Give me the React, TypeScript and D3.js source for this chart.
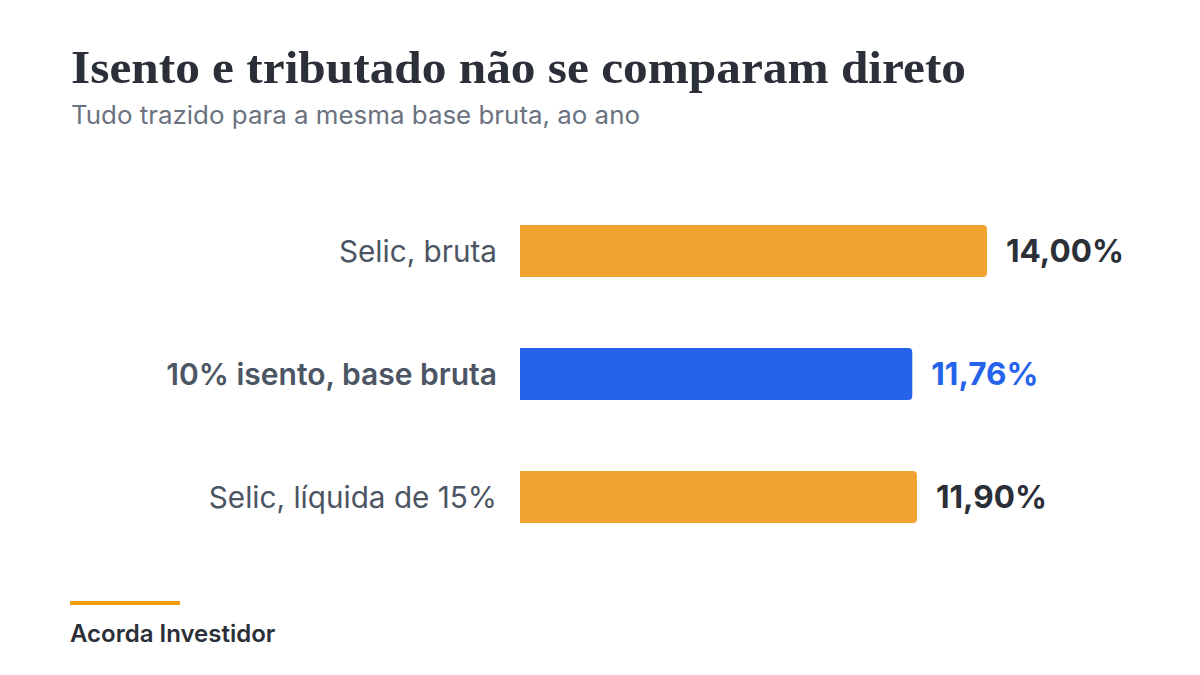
import React from "react";
import * as d3 from "d3";

const categories = ["Selic, bruta", "10% isento, base bruta", "Selic, líquida de 15%"];
const values = [14.0, 11.76, 11.9];
const valueLabels = ["14,00%", "11,76%", "11,90%"];
const highlighted = [false, true, false];

const title = "Isento e tributado não se comparam direto";
const subtitle = "Tudo trazido para a mesma base bruta, ao ano";
const source = "Acorda Investidor";

const W = 1200;
const H = 675;
const ORANGE = "#F0A32E";
const BLUE = "#2563EB";
const DARK = "#2B2F37";
const GREY = "#4B5563";

function barPath(x0: number, y0: number, w: number, h: number, r: number) {
  const p = d3.path();
  p.moveTo(x0, y0);
  p.lineTo(x0 + w - r, y0);
  p.arcTo(x0 + w, y0, x0 + w, y0 + r, r);
  p.lineTo(x0 + w, y0 + h - r);
  p.arcTo(x0 + w, y0 + h, x0 + w - r, y0 + h, r);
  p.lineTo(x0, y0 + h);
  p.closePath();
  return p.toString();
}

export default function App() {
  const x = d3.scaleLinear().domain([0, 14]).range([520, 987]);
  const y = d3
    .scaleBand<string>()
    .domain(categories)
    .range([189.5, 558.5])
    .paddingInner(0.577)
    .paddingOuter(0.2885);
  const bw = y.bandwidth();

  return (
    <svg
      width={W}
      height={H}
      style={{ position: "absolute", left: 0, top: 0, background: "#fff" }}
    >
      <rect x={0} y={0} width={W} height={H} fill="#fff" />
      <text
        x={71}
        y={83}
        fontFamily="'Liberation Serif', 'DejaVu Serif', serif"
        fontWeight={700}
        fontSize={47}
        fill={DARK}
        textLength={895}
        lengthAdjust="spacingAndGlyphs"
      >
        {title}
      </text>
      <text
        x={71}
        y={124}
        fontFamily="Inter, sans-serif"
        fontSize={25}
        fill="#6B7280"
        textLength={569}
        lengthAdjust="spacingAndGlyphs"
      >
        {subtitle}
      </text>

      {categories.map((c, i) => {
        const y0 = y(c)!;
        const x1 = x(values[i]);
        const cy = y0 + bw / 2;
        return (
          <g key={c}>
            <path d={barPath(x(0), y0, x1 - x(0), bw, 4)} fill={highlighted[i] ? BLUE : ORANGE} />
            <text
              x={497}
              y={cy}
              dy="0.36em"
              textAnchor="end"
              fontFamily="Inter, sans-serif"
              fontSize={highlighted[i] ? 30 : 29.7}
              fontWeight={highlighted[i] ? 600 : 400}
              fill={GREY}
            >
              {c}
            </text>
            <text
              x={x1 + 19}
              y={cy}
              dy="0.36em"
              fontFamily="Inter, sans-serif"
              fontSize={31.5}
              fontWeight={700}
              fill={highlighted[i] ? BLUE : DARK}
            >
              {valueLabels[i]}
            </text>
          </g>
        );
      })}

      <rect x={70} y={601} width={110} height={4} fill="#F59E0B" />
      <text x={70} y={642} fontFamily="Inter, sans-serif" fontSize={24} fontWeight={600} fill={DARK}>
        {source}
      </text>
    </svg>
  );
}
